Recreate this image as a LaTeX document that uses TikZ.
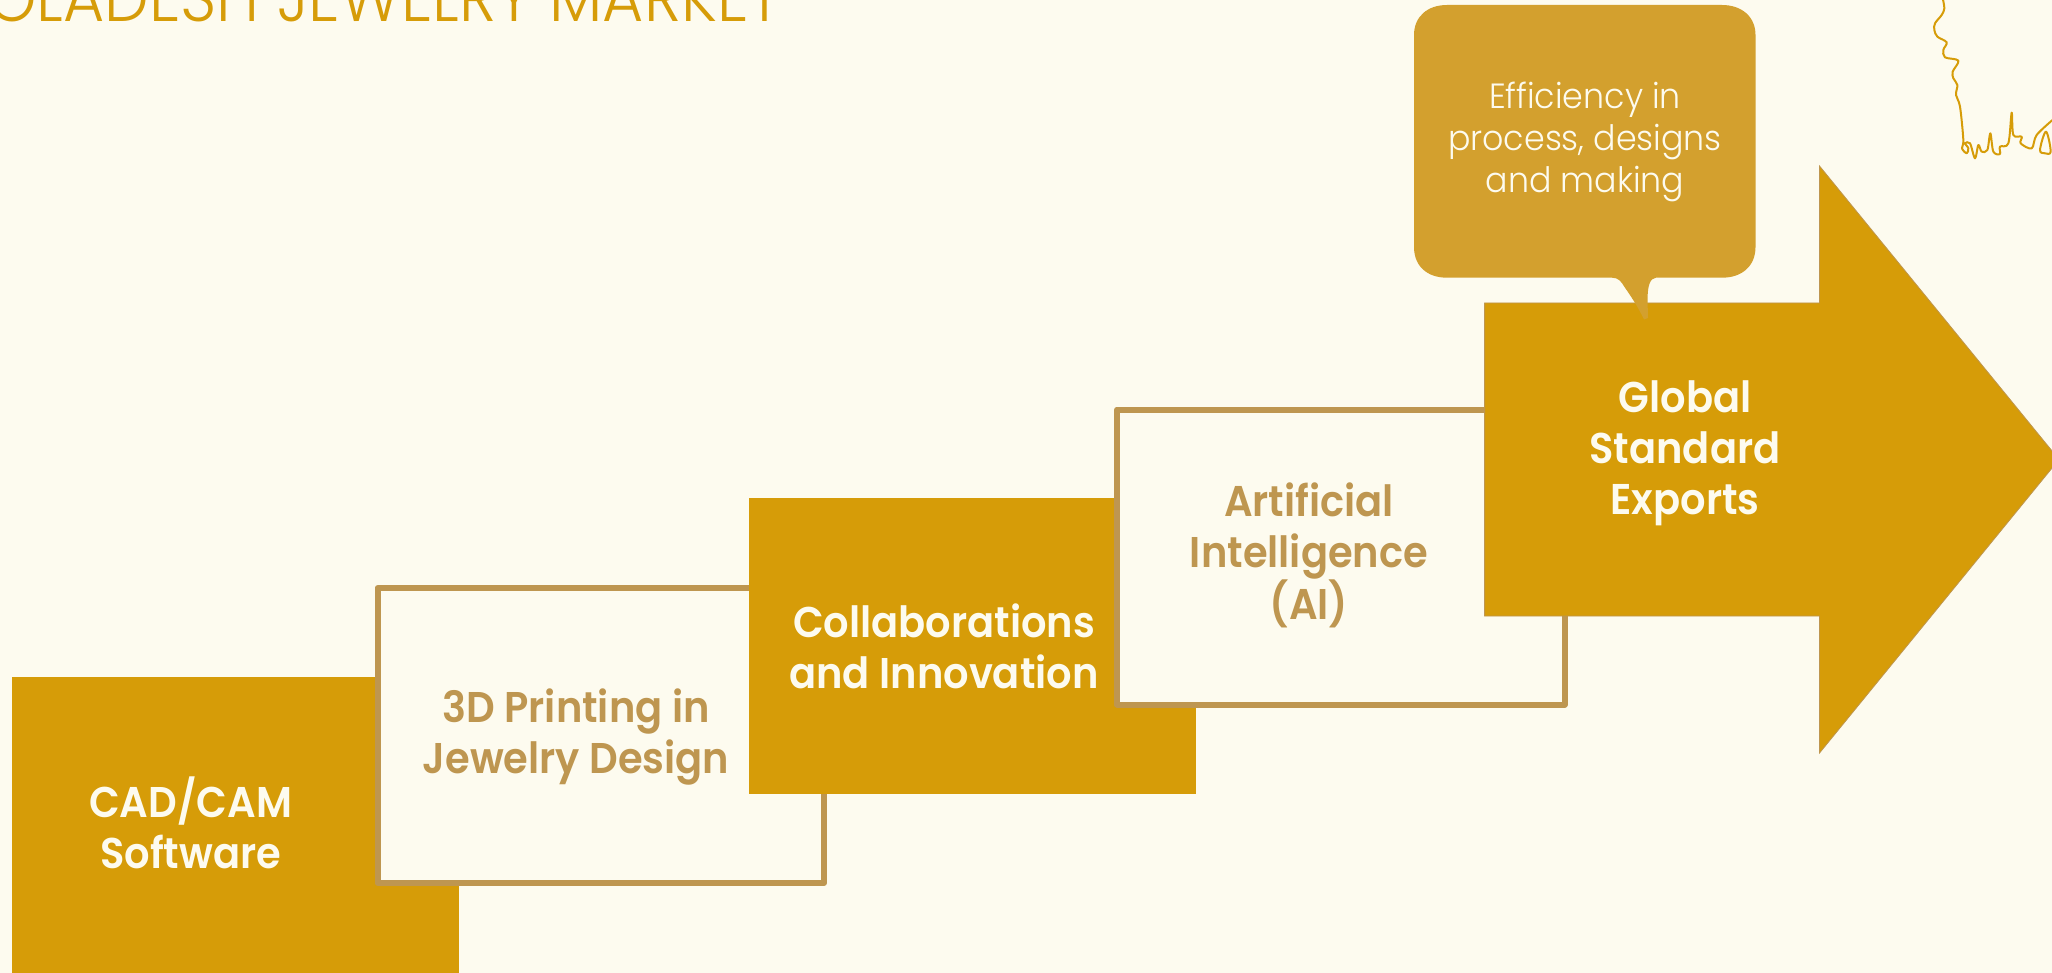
\documentclass[tikz,border=0pt]{standalone}
\usepackage{fontspec}
\setmainfont{Poppins}
\newfontfamily\boldface[FakeStretch=0.93]{Poppins SemiBold}
\newfontfamily\lightface[FakeStretch=0.95]{Poppins Light}
\newfontfamily\titleface[FakeStretch=0.93]{Poppins Light}
\definecolor{bgcol}{HTML}{FDFBEF}
\definecolor{gold}{HTML}{D69C08}
\definecolor{tan}{HTML}{BE9650}
\definecolor{callcol}{HTML}{D3A02E}
\tikzset{
  solidbox/.style={fill=gold,draw=none,inner sep=0pt,outer sep=0pt},
  framebox/.style={fill=bgcol,draw=tan,line width=6pt,line join=round,inner sep=0pt,outer sep=0pt},
  steplabel/.style={anchor=base,align=center,inner sep=0pt,font=\boldface\fontsize{43}{51}\selectfont},
  calltext/.style={anchor=base,align=center,inner sep=0pt,text=bgcol,font=\lightface\fontsize{35}{42}\selectfont},
}
\begin{document}
\begin{tikzpicture}[x=1pt,y=-1pt]
\useasboundingbox (0,0) rectangle (2052,973);
\clip (0,0) rectangle (2052,973);
\fill[bgcol] (0,0) rectangle (2052,973);
% title
\node[anchor=base east,inner sep=0pt,text=gold,font=\titleface\fontsize{68}{68}\selectfont] (title) at (782,21.7) {BANGLADESH JEWELRY MARKET};
% map outline
\begin{scope}[shift={(1900,0)},x=0.3333pt,y=-0.3333pt]
\draw[gold,line width=2pt,line join=round] plot[smooth,tension=0.55] coordinates {(128,-5)(133,25)(125,45)(105,70)(103,90)(112,110)(140,127)(130,150)(135,172)(175,182)(158,215)(160,235)(172,255)(168,285)(180,320)(190,420)(186,445)(200,460)(205,445)(195,430)(210,430)(225,475)(235,435)(245,455)(262,450)(271,400)(280,455)(300,462)(300,440)(325,430)(335,338)(340,405)(365,410)(362,430)(395,445)(410,405)(460,358)};
\draw[gold,line width=2pt,line join=round] plot[smooth cycle,tension=0.6] coordinates {(438,395)(420,450)(435,460)(452,455)};
\end{scope}
% steps
\node[solidbox,minimum width=447pt,minimum height=296pt] (b1) at (235.5,825) {};
\node[steplabel,text=bgcol] (t1) at (190.6,868) {CAD/CAM\\Software};
\node[framebox,minimum width=446.5pt,minimum height=295pt] (b2) at (600.75,735.5) {};
\node[steplabel,text=tan] (t2) at (576,773) {3D Printing in\\Jewelry Design};
\node[solidbox,minimum width=447pt,minimum height=296pt] (b3) at (972.5,646) {};
\node[steplabel,text=bgcol] (t3) at (944,688) {Collaborations\\and Innovation};
\node[framebox,minimum width=447.5pt,minimum height=295pt] (b4) at (1340.75,557) {};
\node[steplabel,text=tan] (t4) at (1309,619.5) {Artificial\\Intelligence\\(AI)};
% arrow
\coordinate (a0) at (1484.6,303);
\coordinate (a1) at (1819.5,303);
\coordinate (a2) at (1819.5,166);
\coordinate (a3) at (2059,459.5);
\coordinate (a4) at (1819.5,753);
\coordinate (a5) at (1819.5,616);
\coordinate (a6) at (1484.6,616);
\fill[gold] (a0) -- (a1) -- (a2) -- (a3) -- (a4) -- (a5) -- (a6) -- cycle;
\draw[tan,line width=0.8pt,line join=miter] (a0) -- (a1) -- (a2) -- (a3) -- (a4) -- (a5) -- (a6) -- cycle;
\node[steplabel,text=bgcol] (t5) at (1685,514) {Global\\Standard\\Exports};
% callout
\fill[callcol] (1447,5) -- (1722,5) .. controls (1742,5) and (1755.5,17) .. (1755.5,35)
  -- (1755.5,247) .. controls (1755.5,266) and (1742,277.7) .. (1722,277.7)
  -- (1656,277.7) .. controls (1650,278) and (1647.5,286) .. (1647.5,300)
  -- (1648,318) -- (1644,319.5)
  .. controls (1637,305) and (1630,295) .. (1624.5,287)
  .. controls (1621,281) and (1618,277.7) .. (1612,277.7)
  -- (1447,277.7) .. controls (1427,277.7) and (1414,266) .. (1414,247)
  -- (1414,35) .. controls (1414,17) and (1427,5) .. (1447,5) -- cycle;
\node[calltext] (c1) at (1585,192.5) {Efficiency in\\process, designs\\and making};
\end{tikzpicture}
\end{document}
